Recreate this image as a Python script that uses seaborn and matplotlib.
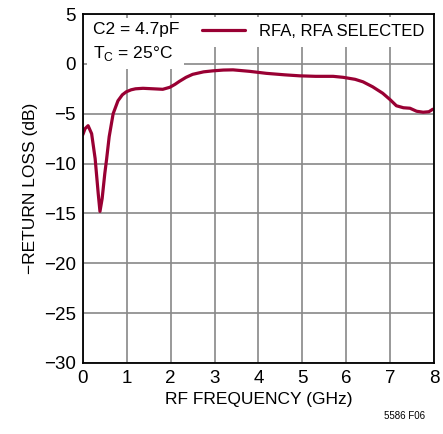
import matplotlib
matplotlib.use('Agg')
import matplotlib.pyplot as plt
import seaborn as sns
import pandas as pd
from matplotlib.lines import Line2D

freq_ghz = [0.0, 0.05, 0.12, 0.2, 0.28, 0.35, 0.39, 0.44, 0.5, 0.54, 0.6, 0.69, 0.8, 0.9, 0.99,
            1.1, 1.2, 1.37, 1.6, 1.82, 1.98, 2.1, 2.2, 2.35, 2.5, 2.75, 2.96, 3.2, 3.42, 3.8,
            4.18, 4.6, 4.94, 5.3, 5.7, 5.93, 6.2, 6.38, 6.6, 6.83, 7.0, 7.14, 7.3, 7.45,
            7.6, 7.75, 7.88, 7.97]
return_loss_db = [-7.1, -6.5, -6.2, -7.0, -9.5, -13.0, -14.8, -13.5, -11.0, -9.6, -7.3, -5.0,
                  -3.7, -3.1, -2.8, -2.6, -2.5, -2.45, -2.5, -2.55, -2.35, -2.05, -1.75, -1.35,
                  -1.05, -0.8, -0.7, -0.62, -0.6, -0.75, -0.95, -1.1, -1.2, -1.25, -1.25,
                  -1.35, -1.55, -1.8, -2.3, -2.95, -3.6, -4.2, -4.4, -4.45, -4.75, -4.85,
                  -4.8, -4.55]
x_ticks = [0, 1, 2, 3, 4, 5, 6, 7, 8]
y_ticks = [5, 0, -5, -10, -15, -20, -25, -30]

df = pd.DataFrame({'freq': freq_ghz, 'rl': return_loss_db, 'series': 'RFA, RFA SELECTED'})

sns.set_style('white')
plt.rcParams['font.family'] = ['Liberation Sans', 'DejaVu Sans']
plt.rcParams['font.size'] = 12
plt.rcParams['text.color'] = 'black'
plt.rcParams['axes.labelcolor'] = 'black'
plt.rcParams['xtick.color'] = 'black'
plt.rcParams['ytick.color'] = 'black'
plt.rcParams['axes.unicode_minus'] = True

fig = plt.figure(figsize=(4.43, 4.34), dpi=100)
ax = fig.add_axes([0.187, 0.1636, 0.793, 0.8041])

sns.lineplot(data=df, x='freq', y='rl', hue='series', palette=['#990033'],
             linewidth=2.3, ax=ax, legend=False)

ax.set_xlim(0, 8)
ax.set_ylim(-30, 5)
ax.set_xticks(x_ticks)
ax.set_yticks(y_ticks)
ax.set_yticklabels([str(v).replace('-', '\u2212') for v in y_ticks])
ax.grid(True, color='#888888', linewidth=1.2)
ax.set_axisbelow(True)
for s in ax.spines.values():
    s.set_linewidth(1.3)
    s.set_color('black')
ax.tick_params(length=0, pad=5, labelsize=13.5)

ax.set_xlabel('RF FREQUENCY (GHz)', fontsize=12.5, labelpad=4)
ax.set_ylabel('\u2212RETURN LOSS (dB)', fontsize=12.5, labelpad=4)

# annotation block
ax.text(0.22, 4.2, 'C2 = 4.7pF\nT$_\\mathregular{C}$ = 25°C', fontsize=12.5, va='top', ha='left',
        linespacing=1.5,
        bbox=dict(facecolor='white', edgecolor='none', pad=4))

h = [Line2D([0], [0], color='#990033', linewidth=2.3)]
leg = ax.legend(h, ['RFA, RFA SELECTED'], loc='upper right', frameon=True,
                fontsize=12, handlelength=2.6, borderaxespad=0.15, handletextpad=0.8,
                borderpad=0.45)
leg.get_frame().set_edgecolor('none')
leg.get_frame().set_facecolor('white')
leg.get_frame().set_alpha(1)

fig.text(0.96, 0.035, '5586 F06', fontsize=7, ha='right')

plt.savefig('out.png', dpi=100)
